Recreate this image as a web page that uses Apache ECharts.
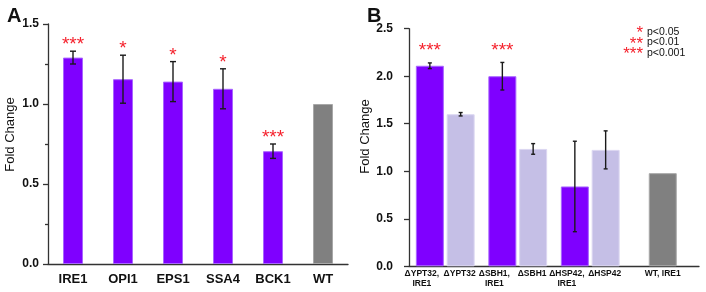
<!DOCTYPE html>
<html>
<head>
<meta charset="utf-8">
<script src="https://cdn.jsdelivr.net/npm/echarts@6/dist/echarts.min.js"></script>
<style>
  html, body { margin: 0; padding: 0; background: #fff; }
  #chart { width: 706px; height: 292px; }
</style>
</head>
<body>
<div id="chart"></div>
<script>
const NARROW = "'Liberation Sans Narrow', 'Liberation Sans', Arial, sans-serif";
const FONT = "'Liberation Sans', Arial, sans-serif";

// panel A
const catsA = ["IRE1", "OPI1", "EPS1", "SSA4", "BCK1", "WT"];
const valsA = [1.29, 1.155, 1.14, 1.095, 0.705, 1.0];
const errA = [0.04, 0.15, 0.125, 0.125, 0.045, 0];
const starsA = ["***", "*", "*", "*", "***", ""];

// panel B
const groupsB = ["YPT32", "SBH1", "HSP42", "WT"];
const doubleLabels = ["ΔYPT32,\nIRE1", "ΔSBH1,\nIRE1", "ΔHSP42,\nIRE1"];
const doubleVals = [2.11, 2.0, 0.84];
const doubleErr = [0.03, 0.145, 0.476];
const singleLabels = ["ΔYPT32", "ΔSBH1", "ΔHSP42"];
const singleVals = [1.6, 1.235, 1.225];
const singleErr = [0.018, 0.056, 0.2];
const wtLabel = "WT, IRE1";
const wtVal = 0.98;
const starsB = ["***", "***", ""];

const legendStars = ["*", "**", "***"];
const legendText = ["p<0.05", "p<0.01", "p<0.001"];

const PURPLE = "#7f00ff";
const LIGHT = "#c5bfe6";
const GRAY = "#808080";
const RED = "#f5222d";

const BAR_B = 28;
const GAP_B = 0.1;

function errData(vals, errs) {
	return vals.map((v, i) => [i, v - errs[i], v + errs[i]]);
}

function errRender(stars, offset, capHalf, starGap) {
	return function (params, api) {
		const i = api.value(0);
		const lo = api.value(1);
		const hi = api.value(2);
		const top = api.coord([i, hi]);
		const bot = api.coord([i, lo]);
		const x = top[0] + offset;
		const children = [];
		if (hi > lo) {
			const st = { stroke: "#1a1a1a", lineWidth: 1.4 };
			children.push({ type: "line", shape: { x1: x, y1: top[1], x2: x, y2: bot[1] }, style: st });
			children.push({ type: "line", shape: { x1: x - capHalf, y1: top[1], x2: x + capHalf, y2: top[1] }, style: st });
			children.push({ type: "line", shape: { x1: x - capHalf, y1: bot[1], x2: x + capHalf, y2: bot[1] }, style: st });
		}
		const s = stars[params.dataIndex];
		if (s) {
			children.push({
				type: "text",
				style: {
					text: s, x: x, y: top[1] - starGap,
					fill: RED, font: "19px " + FONT,
					textAlign: "center", textVerticalAlign: "middle",
				},
			});
		}
		return { type: "group", children: children };
	};
}

const axisLineStyle = { color: "#333", width: 1.3 };

const legendGraphics = [];
legendStars.forEach((s, k) => {
	legendGraphics.push({
		type: "text", right: 706 - 643, top: 25 + k * 10.5,
		style: { text: s, fill: RED, font: "17px " + FONT, textAlign: "right" },
	});
	legendGraphics.push({
		type: "text", left: 647, top: 26.5 + k * 10.5,
		style: { text: legendText[k], fill: "#111", font: "10.5px " + FONT },
	});
});

const chart = echarts.init(document.getElementById("chart"));
chart.setOption({
	animation: false,
	title: [
		{ text: "A", left: 2, top: 1, textStyle: { fontSize: 20, fontWeight: "bold", fontFamily: FONT, color: "#111" } },
		{ text: "B", left: 362, top: 1, textStyle: { fontSize: 20, fontWeight: "bold", fontFamily: FONT, color: "#111" } },
	],
	graphic: legendGraphics,
	grid: [
		{ left: 48, width: 300, top: 24, bottom: 28 },
		{ left: 409, width: 290, top: 28.7, bottom: 25.7 },
	],
	xAxis: [
		{
			gridIndex: 0, type: "category", data: catsA,
			axisLine: { lineStyle: axisLineStyle },
			axisTick: { alignWithLabel: true, length: 5, lineStyle: axisLineStyle },
			axisLabel: { fontSize: 13, margin: 9, color: "#111", fontWeight: "bold", fontFamily: NARROW },
		},
		{
			gridIndex: 0, type: "category", data: catsA,
			axisLine: { show: false },
			axisTick: { length: 3, lineStyle: axisLineStyle },
			axisLabel: { show: false },
		},
		{
			gridIndex: 1, type: "category", data: groupsB,
			axisLine: { lineStyle: axisLineStyle },
			axisTick: { alignWithLabel: true, length: 5, lineStyle: axisLineStyle },
			axisLabel: { show: false },
		},
		{
			gridIndex: 1, type: "category", data: groupsB,
			axisLine: { show: false },
			axisTick: { length: 3, lineStyle: axisLineStyle },
			axisLabel: { show: false },
		},
	],
	yAxis: [
		{
			gridIndex: 0, type: "value", min: 0, max: 1.5, interval: 0.5,
			name: "Fold Change", nameLocation: "middle", nameGap: 31, nameRotate: 90,
			nameTextStyle: { fontSize: 13, fontFamily: FONT, color: "#111", padding: [0, 0, 0, 19] },
			axisLine: { show: true, lineStyle: axisLineStyle },
			axisTick: { show: true, length: 5, lineStyle: axisLineStyle },
			minorTick: { show: true, splitNumber: 2, length: 3, lineStyle: axisLineStyle },
			splitLine: { show: false },
			axisLabel: { fontSize: 12, margin: 9, color: "#111", fontWeight: "bold", fontFamily: FONT, formatter: (v) => v.toFixed(1) },
		},
		{
			gridIndex: 1, type: "value", min: 0, max: 2.5, interval: 0.5,
			name: "Fold Change", nameLocation: "middle", nameGap: 35, nameRotate: 90,
			nameTextStyle: { fontSize: 13, fontFamily: FONT, color: "#111", padding: [0, 0, 0, 22] },
			axisLine: { show: true, lineStyle: axisLineStyle },
			axisTick: { show: true, length: 5, lineStyle: axisLineStyle },
			splitLine: { show: false },
			axisLabel: { fontSize: 12, margin: 16, color: "#111", fontWeight: "bold", fontFamily: FONT, formatter: (v) => v.toFixed(1) },
		},
	],
	series: [
		{
			type: "bar", xAxisIndex: 0, yAxisIndex: 0, barWidth: 20,
			data: valsA.map((v, i) => ({
				value: v,
				itemStyle: { color: i === valsA.length - 1 ? GRAY : PURPLE, borderColor: i === valsA.length - 1 ? "#a8a8a8" : "#a866ff", borderWidth: 1 },
			})),
		},
		{
			type: "custom", xAxisIndex: 0, yAxisIndex: 0, z: 5,
			data: errData(valsA, errA),
			renderItem: errRender(starsA, 0, 3, 6),
		},
		{
			type: "bar", xAxisIndex: 2, yAxisIndex: 1, barWidth: BAR_B, barGap: GAP_B * 100 + "%",
			itemStyle: { color: PURPLE, borderColor: "#a866ff", borderWidth: 1 },
			label: {
				show: true, position: "bottom", distance: 3, offset: [-8, 0],
				formatter: (p) => doubleLabels[p.dataIndex],
				fontSize: 8.5, lineHeight: 9.5, fontWeight: "bold", fontFamily: NARROW, color: "#111",
			},
			data: doubleVals.concat(["-"]),
		},
		{
			type: "bar", xAxisIndex: 2, yAxisIndex: 1, barWidth: BAR_B,
			itemStyle: { color: LIGHT, borderColor: "#dcd7f2", borderWidth: 1 },
			label: {
				show: true, position: "bottom", distance: 3, offset: [-1, 0],
				formatter: (p) => singleLabels[p.dataIndex],
				fontSize: 8.5, lineHeight: 9.5, fontWeight: "bold", fontFamily: NARROW, color: "#111",
			},
			data: singleVals.concat(["-"]),
		},
		{
			type: "bar", xAxisIndex: 3, yAxisIndex: 1, barWidth: BAR_B,
			itemStyle: { color: GRAY, borderColor: "#a8a8a8", borderWidth: 1 },
			label: {
				show: true, position: "bottom", distance: 3,
				formatter: () => wtLabel,
				fontSize: 8.5, lineHeight: 9.5, fontWeight: "bold", fontFamily: NARROW, color: "#111",
			},
			data: ["-", "-", "-", wtVal],
		},
		{
			type: "custom", xAxisIndex: 2, yAxisIndex: 1, z: 5,
			data: errData(doubleVals, doubleErr),
			renderItem: errRender(starsB, -BAR_B * (1 + GAP_B) / 2, 2, 12),
		},
		{
			type: "custom", xAxisIndex: 2, yAxisIndex: 1, z: 5,
			data: errData(singleVals, singleErr),
			renderItem: errRender(["", "", ""], BAR_B * (1 + GAP_B) / 2, 2, 12),
		},
	],
});
</script>
</body>
</html>
